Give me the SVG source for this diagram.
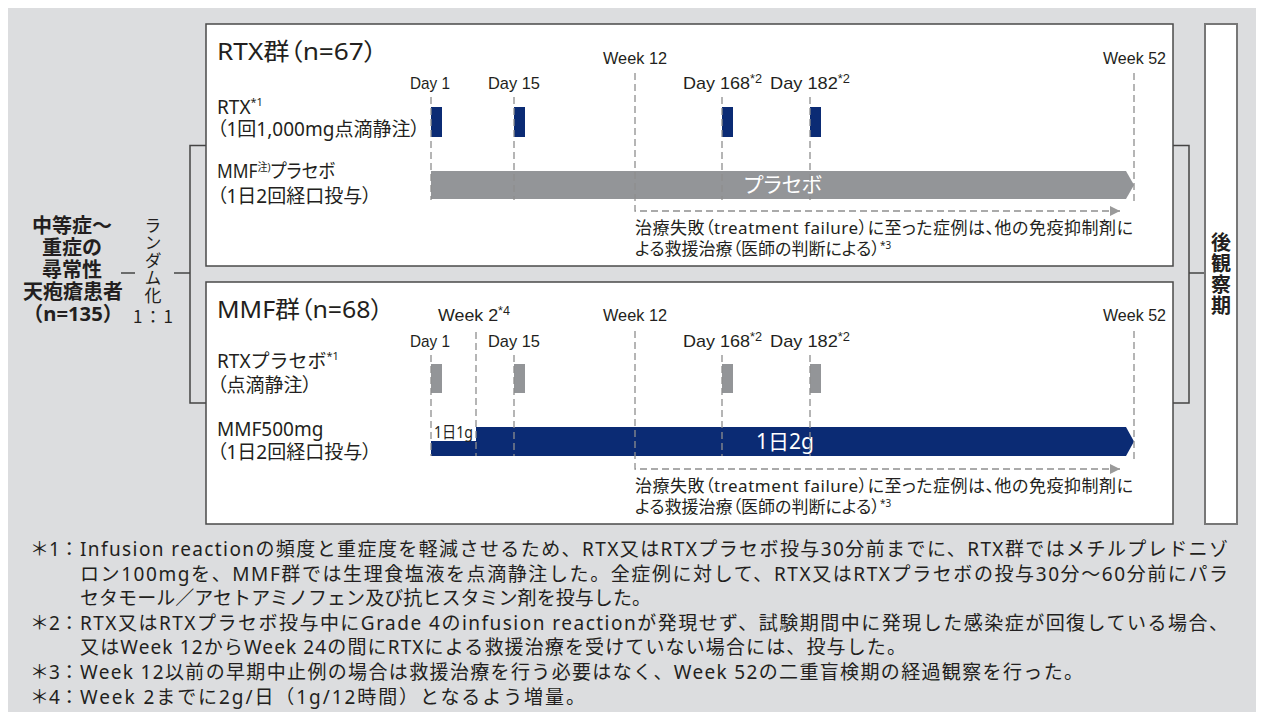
<svg xmlns="http://www.w3.org/2000/svg" width="1262" height="720" viewBox="0 0 1262 720">
<style>
.jp{font-family:"Noto Sans","Noto Sans CJK JP",sans-serif;fill:#231f20;font-feature-settings:"palt"}
.mono{font-family:"Noto Sans","Noto Sans CJK JP",sans-serif;fill:#231f20}
.cjk{font-family:"Noto Sans CJK JP",sans-serif;fill:#231f20}
.b{font-weight:bold}
.lat{font-family:"Liberation Sans Narrow","Liberation Sans",Arial,sans-serif;fill:#231f20;font-size:17px}
.lbl{font-size:19px}
.box{fill:#fff;stroke:#4a4a4a;stroke-width:1.5}
.guide{stroke:#8e8e8e;stroke-width:1.3;stroke-dasharray:7 4;fill:none}
.conn{stroke:#444;stroke-width:1.5;fill:none}
.navy{fill:#0b2b74}
.grey{fill:#939598}
.wt{fill:#fff}
.fn{font-family:"Noto Sans","Noto Sans CJK JP",sans-serif;fill:#231f20;font-size:19px}
</style>
<defs>
<marker id="ah" viewBox="0 0 10 10" refX="10" refY="5" markerWidth="18" markerHeight="10" markerUnits="userSpaceOnUse" orient="auto">
<path d="M0,0 L10,5 L0,10 z" fill="#9a9a9a"/>
</marker>
</defs>
<rect x="8" y="8" width="1248" height="704" fill="#dcdddf"/>

<g id="connectors">
<line class="conn" x1="121" y1="273" x2="135" y2="273"/>
<line class="conn" x1="174" y1="273" x2="190" y2="273"/>
<polyline class="conn" points="206,145.5 190,145.5 190,403 206,403"/>
<polyline class="conn" points="1173,145.5 1189,145.5 1189,403 1173,403"/>
<line class="conn" x1="1189" y1="273" x2="1205" y2="273"/>
</g>

<g id="population">
<text class="cjk b" font-size="20" text-anchor="middle" x="72" y="233">中等症～</text>
<text class="cjk b" font-size="20" text-anchor="middle" x="72" y="255">重症の</text>
<text class="cjk b" font-size="20" text-anchor="middle" x="72" y="277">尋常性</text>
<text class="cjk b" font-size="20" text-anchor="middle" x="73" y="299">天疱瘡患者</text>
<text class="mono b" font-size="20" text-anchor="middle" x="73" y="321" textLength="100" lengthAdjust="spacingAndGlyphs">（n=135）</text>
</g>

<g id="randomize">
<text class="cjk" font-size="17" x="153" y="217" writing-mode="vertical-rl" letter-spacing="0.5">ランダム化</text>
<text class="cjk" font-size="17" x="133" y="323" textLength="40">1：1</text>
</g>

<g id="rtx-group">
<rect class="box" x="206" y="24" width="967" height="242"/>
<text class="jp" font-size="24" x="217" y="60" textLength="160" lengthAdjust="spacingAndGlyphs">RTX群（n=67）</text>
<text class="jp lbl" x="217" y="114">RTX<tspan font-size="11" dy="-8">*1</tspan></text>
<text class="jp lbl" x="217" y="136">（1回1,000mg点滴静注）</text>
<text class="jp lbl" x="217" y="178" textLength="118" lengthAdjust="spacingAndGlyphs">MMF<tspan font-size="11" dy="-7">注)</tspan><tspan dy="7">プラセボ</tspan></text>
<text class="jp lbl" x="217" y="203">（1日2回経口投与）</text>

<text class="lat" x="603" y="64" textLength="64" lengthAdjust="spacingAndGlyphs">Week 12</text>
<text class="lat" x="1103" y="64" textLength="63" lengthAdjust="spacingAndGlyphs">Week 52</text>
<text class="lat" x="410" y="89" textLength="40" lengthAdjust="spacingAndGlyphs">Day 1</text>
<text class="lat" x="488" y="89" textLength="52" lengthAdjust="spacingAndGlyphs">Day 15</text>
<text class="lat" x="683" y="89" textLength="79" lengthAdjust="spacingAndGlyphs">Day 168<tspan font-size="12" dy="-6">*2</tspan></text>
<text class="lat" x="770" y="89" textLength="80" lengthAdjust="spacingAndGlyphs">Day 182<tspan font-size="12" dy="-6">*2</tspan></text>

<rect class="navy" x="431" y="107" width="11" height="30"/>
<rect class="navy" x="514" y="107" width="11" height="30"/>
<rect class="navy" x="722" y="107" width="11" height="30"/>
<rect class="navy" x="810" y="107" width="11" height="30"/>
<polygon class="grey" points="431,171 1126,171 1134,185 1126,199 431,199"/>
<text class="jp wt" font-size="21" text-anchor="middle" x="783" y="192">プラセボ</text>

<line class="guide" x1="431" y1="97" x2="431" y2="200"/>
<line class="guide" x1="514" y1="97" x2="514" y2="200"/>
<line class="guide" x1="722" y1="97" x2="722" y2="200"/>
<line class="guide" x1="810" y1="97" x2="810" y2="200"/>
<line class="guide" x1="1134" y1="73" x2="1134" y2="205"/>
<polyline class="guide" points="635,73 635,211 1120,211" marker-end="url(#ah)"/>

<text class="jp" font-size="17" x="635" y="234" textLength="498">治療失敗（treatment failure）に至った症例は、他の免疫抑制剤に</text>
<text class="jp" font-size="17" x="635" y="255">よる救援治療（医師の判断による）<tspan font-size="10" dy="-6">*3</tspan></text>
</g>

<g id="mmf-group">
<rect class="box" x="206" y="282" width="967" height="242"/>
<text class="jp" font-size="24" x="217" y="318" textLength="166" lengthAdjust="spacingAndGlyphs">MMF群（n=68）</text>
<text class="mono lbl" x="217" y="368">RTXプラセボ<tspan font-size="11" dy="-8">*1</tspan></text>
<text class="jp lbl" x="217" y="392">（点滴静注）</text>
<text class="jp lbl" x="217" y="436">MMF500mg</text>
<text class="jp lbl" x="217" y="459">（1日2回経口投与）</text>

<text class="lat" x="438" y="321" textLength="72" lengthAdjust="spacingAndGlyphs">Week 2<tspan font-size="12" dy="-6">*4</tspan></text>
<text class="lat" x="603" y="321" textLength="64" lengthAdjust="spacingAndGlyphs">Week 12</text>
<text class="lat" x="1103" y="321" textLength="63" lengthAdjust="spacingAndGlyphs">Week 52</text>
<text class="lat" x="410" y="347" textLength="40" lengthAdjust="spacingAndGlyphs">Day 1</text>
<text class="lat" x="488" y="347" textLength="52" lengthAdjust="spacingAndGlyphs">Day 15</text>
<text class="lat" x="683" y="347" textLength="79" lengthAdjust="spacingAndGlyphs">Day 168<tspan font-size="12" dy="-6">*2</tspan></text>
<text class="lat" x="770" y="347" textLength="80" lengthAdjust="spacingAndGlyphs">Day 182<tspan font-size="12" dy="-6">*2</tspan></text>

<rect class="grey" x="431" y="364" width="11" height="29"/>
<rect class="grey" x="514" y="364" width="11" height="29"/>
<rect class="grey" x="722" y="364" width="11" height="29"/>
<rect class="grey" x="810" y="364" width="11" height="29"/>
<polygon class="navy" points="431,441 476,441 476,427 1126,427 1134,441.5 1126,456 431,456"/>
<text class="jp" font-size="16" x="434" y="438" textLength="39" lengthAdjust="spacingAndGlyphs">1日1g</text>
<text class="jp wt" font-size="21" text-anchor="middle" x="785" y="449">1日2g</text>

<line class="guide" x1="431" y1="355" x2="431" y2="456"/>
<line class="guide" x1="476" y1="332" x2="476" y2="456"/>
<line class="guide" x1="514" y1="355" x2="514" y2="456"/>
<line class="guide" x1="722" y1="355" x2="722" y2="456"/>
<line class="guide" x1="810" y1="355" x2="810" y2="456"/>
<line class="guide" x1="1134" y1="331" x2="1134" y2="463"/>
<polyline class="guide" points="635,331 635,469 1120,469" marker-end="url(#ah)"/>

<text class="jp" font-size="17" x="635" y="492" textLength="498">治療失敗（treatment failure）に至った症例は、他の免疫抑制剤に</text>
<text class="jp" font-size="17" x="635" y="513">よる救援治療（医師の判断による）<tspan font-size="10" dy="-6">*3</tspan></text>
</g>

<g id="follow-up">
<rect x="1205" y="24" width="32" height="500" fill="#fff" stroke="#777" stroke-width="2"/>
<text class="cjk b" font-size="20" x="1221" y="232" writing-mode="vertical-rl" letter-spacing="1">後観察期</text>
</g>

<g id="footnotes">
<text class="fn" x="30" y="556">＊1：</text>
<text class="fn" x="80" y="556" textLength="1148">Infusion reactionの頻度と重症度を軽減させるため、RTX又はRTXプラセボ投与30分前までに、RTX群ではメチルプレドニゾ</text>
<text class="fn" x="80" y="580.6" textLength="1148">ロン100mgを、MMF群では生理食塩液を点滴静注した。全症例に対して、RTX又はRTXプラセボの投与30分～60分前にパラ</text>
<text class="fn" x="80" y="605.2" textLength="571">セタモール／アセトアミノフェン及び抗ヒスタミン剤を投与した。</text>
<text class="fn" x="30" y="629.8">＊2：</text>
<text class="fn" x="80" y="629.8" textLength="1148">RTX又はRTXプラセボ投与中にGrade 4のinfusion reactionが発現せず、試験期間中に発現した感染症が回復している場合、</text>
<text class="fn" x="80" y="654.4" textLength="826">又はWeek 12からWeek 24の間にRTXによる救援治療を受けていない場合には、投与した。</text>
<text class="fn" x="30" y="679">＊3：</text>
<text class="fn" x="80" y="679" textLength="1003">Week 12以前の早期中止例の場合は救援治療を行う必要はなく、Week 52の二重盲検期の経過観察を行った。</text>
<text class="fn" x="30" y="703.6">＊4：</text>
<text class="fn" x="80" y="703.6" textLength="505">Week 2までに2g/日（1g/12時間）となるよう増量。</text>
</g>
</svg>
